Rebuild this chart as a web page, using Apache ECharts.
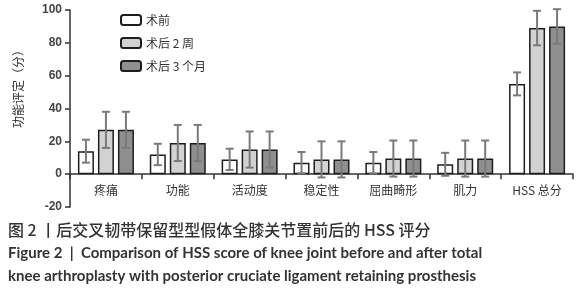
<!DOCTYPE html>
<html>
<head>
<meta charset="utf-8">
<script src="https://cdn.jsdelivr.net/npm/echarts@6/dist/echarts.min.js"></script>
<style>
  html, body { margin: 0; padding: 0; background: #fff; }
  #chart { width: 585px; height: 300px; }
</style>
</head>
<body>
<div id="chart"></div>
<script>
// categories and series (mean ± SD)
const categories = ['疼痛', '功能', '活动度', '稳定性', '屈曲畸形', '肌力', 'HSS 总分'];
const seriesNames = ['术前', '术后 2 周', '术后 3 个月'];
const preOp = [14, 12, 9, 7, 7, 6, 55];
const preOpSd = [7, 6.5, 6.5, 6.5, 6.5, 7, 7];
const week2 = [27, 19, 15, 9, 9.5, 9.5, 89];
const week2Sd = [11, 11, 11, 11, 11, 11, 10.5];
const month3 = [27, 19, 15, 9, 9.5, 9.5, 90];
const month3Sd = [11, 11, 11, 11, 11, 11, 10.5];
const yTicks = [-20, 0, 20, 40, 60, 80, 100];

const fills = ['#ffffff', '#d2d2d2', '#8f8f8f'];
const means = [preOp, week2, month3];
const sds = [preOpSd, week2Sd, month3Sd];
const barW = 16, barStep = 20;

const chart = echarts.init(document.getElementById('chart'));

let barSeries = seriesNames.map((name, i) => ({
    name: name,
    type: 'bar',
    data: means[i],
    barWidth: barW,
    barGap: '25%',
    itemStyle: { color: fills[i], borderColor: '#1e1e1e', borderWidth: 1.5 },
    z: 2
}));

let errSeries = seriesNames.map((name, i) => ({
    type: 'custom',
    name: name + '_err',
    data: means[i].map((m, k) => [k, m, sds[i][k]]),
    z: 5,
    silent: true,
    renderItem: (params, api) => {
        const k = api.value(0), m = api.value(1), sd = api.value(2);
        const top = api.coord([k, m + sd]);
        const bot = api.coord([k, m - sd]);
        const x = top[0] + (i - 1) * barStep;
        const cap = 4;
        const st = { stroke: '#7a7a7a', lineWidth: 2 };
        return {
            type: 'group',
            children: [
                { type: 'line', shape: { x1: x, y1: top[1], x2: x, y2: bot[1] }, style: st },
                { type: 'line', shape: { x1: x - cap, y1: top[1], x2: x + cap, y2: top[1] }, style: st },
                { type: 'line', shape: { x1: x - cap, y1: bot[1], x2: x + cap, y2: bot[1] }, style: st }
            ]
        };
    }
}));

chart.setOption({
    animation: false,
    grid: { left: 70, right: 12, top: 10, bottom: 93 },
    legend: {
        data: seriesNames,
        orient: 'vertical',
        left: 115,
        top: 9,
        itemWidth: 20,
        itemHeight: 10,
        itemGap: 11,
        textStyle: { fontFamily: 'Noto Sans CJK SC', fontSize: 12, color: '#333' }
    },
    xAxis: {
        type: 'category',
        data: categories,
        axisLine: { onZero: true, lineStyle: { color: '#333', width: 1.5 } },
        axisTick: { show: true, length: 5, lineStyle: { color: '#333', width: 1.5 } },
        axisLabel: { margin: -23, fontFamily: 'Noto Sans CJK SC', fontSize: 12, color: '#333' }
    },
    yAxis: {
        type: 'value',
        min: -20,
        max: 100,
        interval: 20,
        splitLine: { show: false },
        axisLine: { show: true, lineStyle: { color: '#333', width: 1.5 } },
        axisTick: { show: true, length: 5, lineStyle: { color: '#333', width: 1.5 } },
        axisLabel: {
            margin: 8, fontFamily: 'Liberation Sans', fontSize: 12, fontWeight: 'bold', color: '#444',
            formatter: v => yTicks.includes(v) ? String(v) : ''
        }
    },
    graphic: [
        {
            type: 'text', x: 18, y: 86, rotation: Math.PI / 2,
            style: { text: '功能评定（分）', font: '12px "Noto Sans CJK SC"', fill: '#333', align: 'center', verticalAlign: 'middle' }
        },
        {
            type: 'text', left: 8, top: 222,
            style: { text: '图 2 丨后交叉韧带保留型型假体全膝关节置前后的 HSS 评分', font: '500 16px "Noto Sans CJK SC"', fill: '#333' }
        },
        {
            type: 'text', left: 8, top: 246,
            style: { text: 'Figure 2  |  Comparison of HSS score of knee joint before and after total', font: 'bold 15px Lato', fill: '#333' }
        },
        {
            type: 'text', left: 8, top: 269,
            style: { text: 'knee arthroplasty with posterior cruciate ligament retaining prosthesis', font: 'bold 15px Lato', fill: '#333' }
        }
    ],
    series: barSeries.concat(errSeries)
});
</script>
</body>
</html>
